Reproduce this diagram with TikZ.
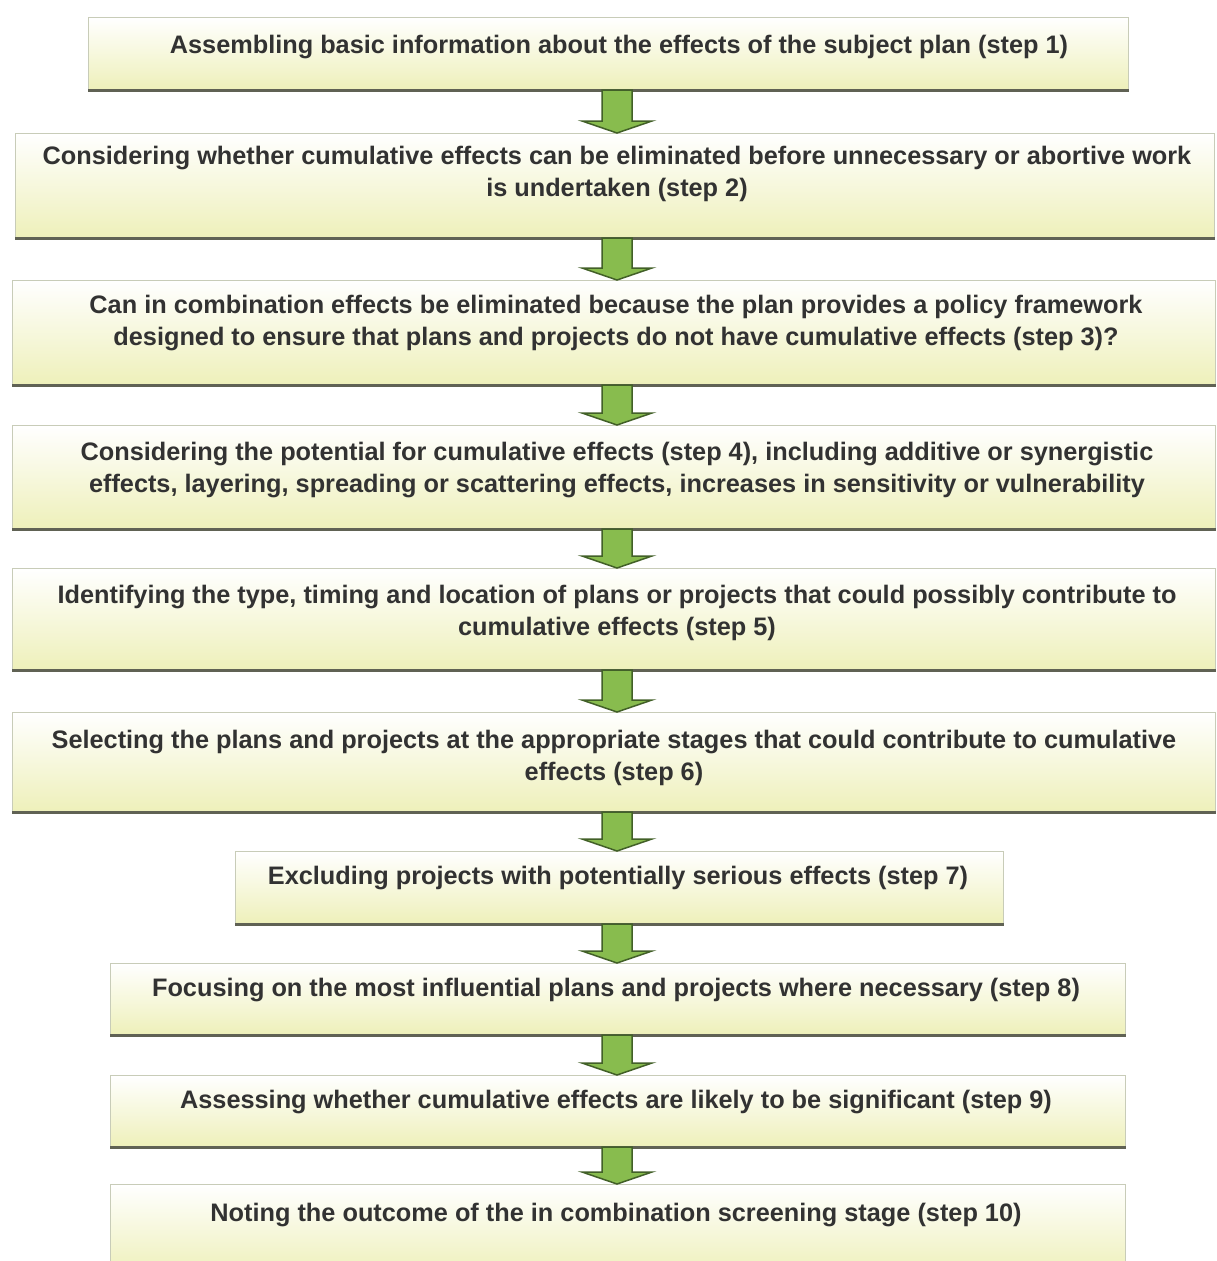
\documentclass[tikz,border=0pt]{standalone}
\usepackage{fontspec}
\setmainfont{Liberation Sans}
\usetikzlibrary{calc}
\definecolor{boxbot}{RGB}{238,240,186}
\definecolor{boxedge}{RGB}{200,204,184}
\definecolor{shadowc}{RGB}{96,98,84}
\definecolor{arrowfill}{RGB}{136,188,78}
\definecolor{arrowedge}{RGB}{66,96,40}
\definecolor{txt}{RGB}{50,50,50}
\tikzset{
  box/.style={draw=boxedge, line width=1pt, top color=white, middle color=white!70!boxbot, bottom color=boxbot, anchor=north west, inner sep=0pt},
  shadowline/.style={draw=shadowc, line width=3pt},
  lbl/.style={font=\fontsize{25.3}{32}\selectfont\bfseries, text=txt, align=center, inner sep=0pt},
  blockarrow/.style={fill=arrowfill, draw=arrowedge, line width=1.5pt, line join=miter}
}
\newcommand\flowarrow[2]{%
  \path[blockarrow] let \p1=(#1.south), \p2=(#2.north) in
    (602pt,\y1) -- (632pt,\y1) -- (632pt,\y2+12pt) -- (652pt,\y2+12pt) -- (617pt,\y2)
    -- (582pt,\y2+12pt) -- (602pt,\y2+12pt) -- cycle;}
\begin{document}
\begin{tikzpicture}[x=1pt,y=-1pt]
\useasboundingbox (0,0) rectangle (1217,1261);
\node[box, minimum width=1040pt, minimum height=72pt] (b1) at (88,17) {};
\node[box, minimum width=1199pt, minimum height=104pt] (b2) at (15,133) {};
\node[box, minimum width=1203pt, minimum height=104pt] (b3) at (12,280) {};
\node[box, minimum width=1203pt, minimum height=103pt] (b4) at (12,425) {};
\node[box, minimum width=1203pt, minimum height=101pt] (b5) at (12,568) {};
\node[box, minimum width=1203pt, minimum height=99pt] (b6) at (12,712) {};
\node[box, minimum width=768pt, minimum height=72pt] (b7) at (235,851) {};
\node[box, minimum width=1015pt, minimum height=71pt] (b8) at (110,963) {};
\node[box, minimum width=1015pt, minimum height=71pt] (b9) at (110,1075) {};
\node[box, minimum width=1015pt, minimum height=90pt] (b10) at (110,1184) {};
\foreach \n in {b1,b2,b3,b4,b5,b6,b7,b8,b9}
  \draw[shadowline] (\n.south west) -- (\n.south east);
\node[lbl] (t1) at (619,47) {Assembling basic information about the effects of the subject plan (step 1)};
\node[lbl] (t2) at (617,174) {Considering whether cumulative effects can be eliminated before unnecessary or abortive work\\is undertaken (step 2)};
\node[lbl] (t3) at (616,323) {Can in combination effects be eliminated because the plan provides a policy framework\\designed to ensure that plans and projects do not have cumulative effects (step 3)?};
\node[lbl] (t4) at (617,470) {Considering the potential for cumulative effects (step 4), including additive or synergistic\\effects, layering, spreading or scattering effects, increases in sensitivity or vulnerability};
\node[lbl] (t5) at (617,613) {Identifying the type, timing and location of plans or projects that could possibly contribute to\\cumulative effects (step 5)};
\node[lbl] (t6) at (614,758) {Selecting the plans and projects at the appropriate stages that could contribute to cumulative\\effects (step 6)};
\node[lbl] (t7) at (618,878) {Excluding projects with potentially serious effects (step 7)};
\node[lbl] (t8) at (616,990) {Focusing on the most influential plans and projects where necessary (step 8)};
\node[lbl] (t9) at (616,1102) {Assessing whether cumulative effects are likely to be significant (step 9)};
\node[lbl] (t10) at (616,1215) {Noting the outcome of the in combination screening stage (step 10)};
\flowarrow{b1}{b2}
\flowarrow{b2}{b3}
\flowarrow{b3}{b4}
\flowarrow{b4}{b5}
\flowarrow{b5}{b6}
\flowarrow{b6}{b7}
\flowarrow{b7}{b8}
\flowarrow{b8}{b9}
\flowarrow{b9}{b10}
\end{tikzpicture}
\end{document}
